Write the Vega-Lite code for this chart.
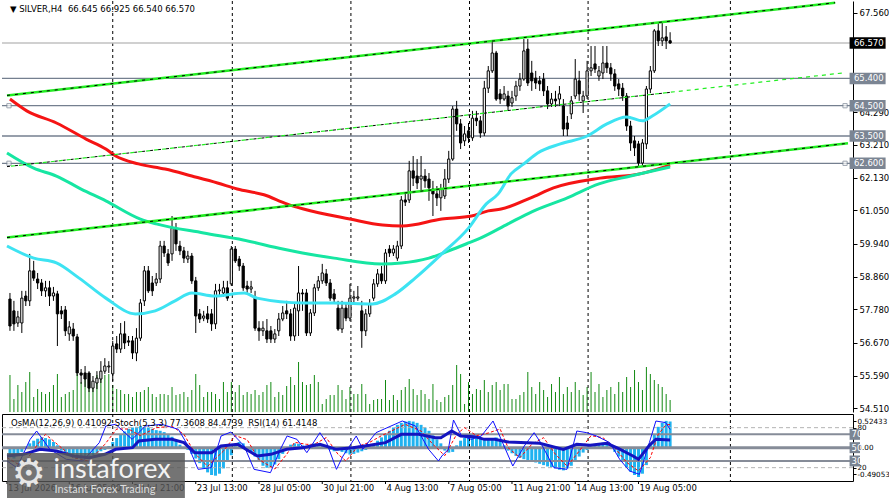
{
  "$schema": "https://vega.github.io/schema/vega-lite/v6.json",
  "padding": 0,
  "background": "#ffffff",
  "bounds": "flush",
  "spacing": 2,
  "config": {"view": {"stroke": null}, "font": "DejaVu Sans", "text": {"font": "DejaVu Sans", "fontSize": 8.5}},
  "resolve": {"scale": {"x": "independent"}},
  "datasets": {
    "bars": [
      {"i":0,"o":58.12,"h":58.32,"l":57.07,"c":57.23,"v":370,"os":-0.12},
      {"i":1,"o":57.73,"h":58.06,"l":57.07,"c":57.30,"v":130,"os":-0.15},
      {"i":2,"o":57.33,"h":57.73,"l":57.20,"c":57.53,"v":270,"os":-0.10},
      {"i":3,"o":57.33,"h":58.39,"l":57.00,"c":58.15,"v":200,"os":-0.05},
      {"i":4,"o":58.22,"h":58.39,"l":57.89,"c":58.06,"v":300,"os":0.03},
      {"i":5,"o":58.06,"h":59.61,"l":57.89,"c":59.05,"v":400,"os":0.08},
      {"i":6,"o":59.05,"h":59.38,"l":58.72,"c":58.81,"v":150,"os":0.12},
      {"i":7,"o":58.78,"h":58.98,"l":58.45,"c":58.65,"v":230,"os":0.15},
      {"i":8,"o":58.65,"h":58.78,"l":58.22,"c":58.39,"v":200,"os":0.17},
      {"i":9,"o":58.39,"h":58.72,"l":58.19,"c":58.49,"v":180,"os":0.16},
      {"i":10,"o":58.49,"h":58.72,"l":57.89,"c":58.22,"v":200,"os":0.14},
      {"i":11,"o":58.22,"h":58.52,"l":58.06,"c":58.32,"v":270,"os":0.10},
      {"i":12,"o":58.29,"h":58.39,"l":56.57,"c":57.63,"v":380,"os":0.05},
      {"i":13,"o":57.73,"h":57.89,"l":57.46,"c":57.63,"v":150,"os":-0.03},
      {"i":14,"o":57.76,"h":57.89,"l":56.90,"c":57.07,"v":180,"os":-0.07},
      {"i":15,"o":56.97,"h":57.39,"l":56.74,"c":57.20,"v":200,"os":-0.10},
      {"i":16,"o":57.13,"h":57.33,"l":56.74,"c":56.90,"v":220,"os":-0.13},
      {"i":17,"o":56.87,"h":56.97,"l":55.58,"c":55.68,"v":380,"os":-0.15},
      {"i":18,"o":55.68,"h":55.81,"l":55.32,"c":55.61,"v":300,"os":-0.15},
      {"i":19,"o":55.68,"h":55.91,"l":55.22,"c":55.48,"v":370,"os":-0.14},
      {"i":20,"o":55.68,"h":55.74,"l":55.05,"c":55.18,"v":270,"os":-0.12},
      {"i":21,"o":55.18,"h":55.58,"l":55.05,"c":55.41,"v":270,"os":-0.10},
      {"i":22,"o":55.35,"h":55.74,"l":55.15,"c":55.51,"v":370,"os":-0.07},
      {"i":23,"o":55.48,"h":56.07,"l":55.35,"c":55.74,"v":400,"os":-0.04},
      {"i":24,"o":55.74,"h":56.17,"l":55.65,"c":55.91,"v":370,"os":-0.02},
      {"i":25,"o":55.88,"h":56.07,"l":55.68,"c":55.91,"v":380,"os":0.04},
      {"i":26,"o":55.65,"h":56.74,"l":55.41,"c":56.57,"v":270,"os":0.10},
      {"i":27,"o":56.64,"h":56.90,"l":56.34,"c":56.47,"v":230,"os":0.16},
      {"i":28,"o":56.47,"h":57.33,"l":56.34,"c":56.97,"v":220,"os":0.22},
      {"i":29,"o":56.97,"h":57.39,"l":56.47,"c":56.67,"v":180,"os":0.26},
      {"i":30,"o":56.74,"h":56.90,"l":56.57,"c":56.70,"v":180,"os":0.30},
      {"i":31,"o":56.74,"h":56.90,"l":56.14,"c":56.34,"v":150,"os":0.32},
      {"i":32,"o":56.34,"h":57.16,"l":56.07,"c":56.83,"v":200,"os":0.33},
      {"i":33,"o":56.83,"h":58.12,"l":56.74,"c":57.99,"v":200,"os":0.34},
      {"i":34,"o":58.06,"h":59.21,"l":57.89,"c":59.05,"v":220,"os":0.33},
      {"i":35,"o":59.05,"h":59.21,"l":58.32,"c":58.39,"v":250,"os":0.32},
      {"i":36,"o":58.65,"h":58.88,"l":58.22,"c":58.39,"v":180,"os":0.30},
      {"i":37,"o":58.65,"h":58.98,"l":58.55,"c":58.78,"v":150,"os":0.28},
      {"i":38,"o":58.78,"h":60.04,"l":58.65,"c":59.87,"v":180,"os":0.27},
      {"i":39,"o":59.87,"h":60.04,"l":59.51,"c":59.64,"v":180,"os":0.25},
      {"i":40,"o":59.61,"h":59.77,"l":59.21,"c":59.31,"v":170,"os":0.22},
      {"i":41,"o":59.61,"h":60.86,"l":59.38,"c":60.46,"v":250,"os":0.18},
      {"i":42,"o":60.46,"h":60.63,"l":59.71,"c":59.94,"v":170,"os":0.12},
      {"i":43,"o":59.87,"h":60.04,"l":59.57,"c":59.71,"v":180,"os":0.06},
      {"i":44,"o":59.71,"h":59.84,"l":59.31,"c":59.47,"v":200,"os":0.02},
      {"i":45,"o":59.44,"h":59.71,"l":59.31,"c":59.54,"v":150,"os":-0.02},
      {"i":46,"o":59.54,"h":59.64,"l":58.62,"c":58.72,"v":220,"os":-0.08},
      {"i":47,"o":58.72,"h":58.85,"l":57.00,"c":57.56,"v":380,"os":-0.15},
      {"i":48,"o":57.63,"h":57.79,"l":57.33,"c":57.46,"v":270,"os":-0.22},
      {"i":49,"o":57.49,"h":57.73,"l":57.39,"c":57.56,"v":150,"os":-0.30},
      {"i":50,"o":57.63,"h":57.89,"l":57.33,"c":57.46,"v":200,"os":-0.36},
      {"i":51,"o":57.63,"h":57.79,"l":57.07,"c":57.30,"v":200,"os":-0.40},
      {"i":52,"o":57.30,"h":58.62,"l":57.13,"c":58.39,"v":180,"os":-0.41},
      {"i":53,"o":58.39,"h":58.62,"l":58.19,"c":58.42,"v":130,"os":-0.38},
      {"i":54,"o":58.32,"h":58.72,"l":58.19,"c":58.49,"v":300,"os":-0.30},
      {"i":55,"o":58.49,"h":58.72,"l":58.06,"c":58.15,"v":200,"os":-0.20},
      {"i":56,"o":58.62,"h":59.87,"l":58.55,"c":59.77,"v":300,"os":-0.10},
      {"i":57,"o":59.77,"h":59.87,"l":59.31,"c":59.38,"v":200,"os":0.05},
      {"i":58,"o":59.44,"h":59.54,"l":59.05,"c":59.21,"v":270,"os":0.10},
      {"i":59,"o":59.21,"h":59.31,"l":58.39,"c":58.49,"v":170,"os":0.08},
      {"i":60,"o":58.55,"h":58.72,"l":58.32,"c":58.45,"v":200,"os":0.02},
      {"i":61,"o":58.45,"h":58.72,"l":58.32,"c":58.52,"v":180,"os":-0.05},
      {"i":62,"o":58.15,"h":58.39,"l":57.07,"c":57.16,"v":220,"os":-0.12},
      {"i":63,"o":57.16,"h":57.39,"l":56.74,"c":57.07,"v":170,"os":-0.20},
      {"i":64,"o":57.07,"h":57.39,"l":56.90,"c":57.16,"v":200,"os":-0.26},
      {"i":65,"o":57.07,"h":57.46,"l":56.67,"c":56.80,"v":270,"os":-0.29},
      {"i":66,"o":57.07,"h":57.23,"l":56.67,"c":56.80,"v":300,"os":-0.28},
      {"i":67,"o":56.80,"h":57.13,"l":56.67,"c":56.97,"v":150,"os":-0.24},
      {"i":68,"o":57.07,"h":57.66,"l":56.90,"c":57.46,"v":200,"os":-0.16},
      {"i":69,"o":57.46,"h":57.89,"l":57.39,"c":57.66,"v":170,"os":-0.08},
      {"i":70,"o":57.73,"h":58.06,"l":57.46,"c":57.63,"v":260,"os":0.02},
      {"i":71,"o":57.63,"h":57.79,"l":56.74,"c":56.90,"v":350,"os":0.06},
      {"i":72,"o":56.90,"h":57.99,"l":56.74,"c":57.82,"v":270,"os":0.08},
      {"i":73,"o":57.73,"h":59.21,"l":56.90,"c":58.32,"v":500,"os":0.07},
      {"i":74,"o":58.32,"h":58.45,"l":57.73,"c":58.29,"v":300,"os":0.05},
      {"i":75,"o":58.32,"h":58.45,"l":56.90,"c":57.00,"v":270,"os":0.04},
      {"i":76,"o":57.00,"h":57.79,"l":56.90,"c":57.66,"v":280,"os":0.06},
      {"i":77,"o":57.66,"h":58.62,"l":57.56,"c":58.49,"v":370,"os":0.08},
      {"i":78,"o":58.49,"h":58.88,"l":58.39,"c":58.72,"v":300,"os":0.07},
      {"i":79,"o":58.72,"h":59.28,"l":58.62,"c":58.98,"v":80,"os":0.05},
      {"i":80,"o":58.95,"h":59.11,"l":58.55,"c":58.65,"v":130,"os":0.03},
      {"i":81,"o":58.65,"h":58.78,"l":58.06,"c":58.15,"v":170,"os":-0.02},
      {"i":82,"o":58.29,"h":58.45,"l":57.99,"c":58.12,"v":170,"os":-0.04},
      {"i":83,"o":57.82,"h":58.06,"l":57.07,"c":57.13,"v":270,"os":-0.03},
      {"i":84,"o":57.13,"h":58.06,"l":57.00,"c":57.82,"v":220,"os":-0.05},
      {"i":85,"o":57.82,"h":57.96,"l":57.39,"c":57.49,"v":130,"os":-0.07},
      {"i":86,"o":57.49,"h":58.62,"l":57.39,"c":58.15,"v":250,"os":-0.09},
      {"i":87,"o":58.15,"h":58.39,"l":57.99,"c":58.19,"v":180,"os":-0.08},
      {"i":88,"o":58.15,"h":58.55,"l":58.06,"c":58.19,"v":180,"os":-0.06},
      {"i":89,"o":57.73,"h":58.06,"l":56.51,"c":57.07,"v":280,"os":-0.04},
      {"i":90,"o":57.07,"h":57.79,"l":56.90,"c":57.63,"v":180,"os":-0.02},
      {"i":91,"o":57.63,"h":58.12,"l":57.53,"c":57.96,"v":80,"os":0.03},
      {"i":92,"o":58.15,"h":58.78,"l":58.06,"c":58.62,"v":120,"os":0.07},
      {"i":93,"o":58.62,"h":59.11,"l":58.52,"c":58.95,"v":130,"os":0.12},
      {"i":94,"o":58.95,"h":59.21,"l":58.62,"c":58.72,"v":130,"os":0.17},
      {"i":95,"o":58.72,"h":59.77,"l":58.62,"c":59.64,"v":320,"os":0.22},
      {"i":96,"o":59.77,"h":59.90,"l":59.51,"c":59.64,"v":120,"os":0.27},
      {"i":97,"o":59.64,"h":59.90,"l":59.54,"c":59.77,"v":170,"os":0.32},
      {"i":98,"o":59.47,"h":60.04,"l":59.38,"c":59.87,"v":120,"os":0.36},
      {"i":99,"o":59.87,"h":61.52,"l":59.77,"c":61.39,"v":220,"os":0.39},
      {"i":100,"o":61.39,"h":61.62,"l":61.19,"c":61.32,"v":250,"os":0.41},
      {"i":101,"o":61.39,"h":62.68,"l":61.29,"c":62.35,"v":330,"os":0.42},
      {"i":102,"o":62.35,"h":62.84,"l":61.85,"c":62.11,"v":230,"os":0.41},
      {"i":103,"o":62.18,"h":62.74,"l":61.75,"c":61.95,"v":170,"os":0.39},
      {"i":104,"o":62.08,"h":62.84,"l":61.69,"c":62.18,"v":220,"os":0.36},
      {"i":105,"o":62.18,"h":62.41,"l":61.79,"c":62.02,"v":180,"os":0.32},
      {"i":106,"o":62.08,"h":62.28,"l":61.36,"c":61.79,"v":130,"os":0.27},
      {"i":107,"o":61.75,"h":62.02,"l":60.86,"c":61.59,"v":280,"os":0.20},
      {"i":108,"o":61.59,"h":61.85,"l":61.19,"c":61.46,"v":120,"os":0.14},
      {"i":109,"o":61.46,"h":61.92,"l":61.03,"c":61.75,"v":100,"os":0.08},
      {"i":110,"o":61.52,"h":62.41,"l":61.42,"c":62.08,"v":150,"os":-0.03},
      {"i":111,"o":62.08,"h":63.01,"l":61.95,"c":62.74,"v":170,"os":-0.06},
      {"i":112,"o":62.74,"h":64.49,"l":62.68,"c":64.39,"v":270,"os":-0.05},
      {"i":113,"o":64.39,"h":64.66,"l":63.67,"c":63.90,"v":470,"os":0.05},
      {"i":114,"o":63.90,"h":64.06,"l":63.07,"c":63.27,"v":380,"os":0.12},
      {"i":115,"o":63.34,"h":63.83,"l":63.17,"c":63.57,"v":80,"os":0.16},
      {"i":116,"o":63.67,"h":63.93,"l":63.27,"c":63.44,"v":300,"os":0.18},
      {"i":117,"o":63.44,"h":64.33,"l":63.34,"c":64.09,"v":180,"os":0.19},
      {"i":118,"o":64.09,"h":64.33,"l":63.83,"c":64.00,"v":230,"os":0.18},
      {"i":119,"o":64.00,"h":64.16,"l":63.44,"c":63.60,"v":220,"os":0.17},
      {"i":120,"o":63.60,"h":65.32,"l":63.50,"c":65.08,"v":320,"os":0.15},
      {"i":121,"o":65.08,"h":65.81,"l":64.92,"c":65.65,"v":200,"os":0.14},
      {"i":122,"o":65.65,"h":66.64,"l":65.58,"c":66.24,"v":270,"os":0.15},
      {"i":123,"o":66.24,"h":66.31,"l":64.66,"c":64.72,"v":300,"os":0.17},
      {"i":124,"o":64.89,"h":65.05,"l":64.56,"c":64.72,"v":220,"os":0.12},
      {"i":125,"o":64.72,"h":65.15,"l":64.66,"c":64.89,"v":280,"os":0.05},
      {"i":126,"o":64.82,"h":64.99,"l":64.33,"c":64.49,"v":280,"os":-0.03},
      {"i":127,"o":64.59,"h":64.99,"l":64.46,"c":64.76,"v":130,"os":-0.07},
      {"i":128,"o":64.82,"h":65.32,"l":64.66,"c":65.15,"v":130,"os":-0.11},
      {"i":129,"o":65.15,"h":65.58,"l":64.99,"c":65.38,"v":170,"os":-0.14},
      {"i":130,"o":65.38,"h":66.70,"l":65.32,"c":66.31,"v":200,"os":-0.16},
      {"i":131,"o":66.37,"h":66.70,"l":65.15,"c":65.25,"v":400,"os":-0.18},
      {"i":132,"o":65.58,"h":65.98,"l":64.99,"c":65.32,"v":250,"os":-0.20},
      {"i":133,"o":65.41,"h":65.65,"l":65.05,"c":65.25,"v":180,"os":-0.21},
      {"i":134,"o":65.32,"h":65.48,"l":64.99,"c":65.22,"v":300,"os":-0.23},
      {"i":135,"o":65.38,"h":65.58,"l":64.82,"c":64.99,"v":220,"os":-0.25},
      {"i":136,"o":64.99,"h":65.15,"l":64.39,"c":64.56,"v":150,"os":-0.27},
      {"i":137,"o":64.56,"h":64.92,"l":64.46,"c":64.72,"v":280,"os":-0.28},
      {"i":138,"o":64.72,"h":64.99,"l":64.46,"c":64.66,"v":200,"os":-0.30},
      {"i":139,"o":64.72,"h":65.15,"l":64.49,"c":64.89,"v":350,"os":-0.32},
      {"i":140,"o":64.49,"h":64.72,"l":63.50,"c":63.73,"v":180,"os":-0.33},
      {"i":141,"o":63.93,"h":64.16,"l":63.50,"c":63.73,"v":250,"os":-0.30},
      {"i":142,"o":64.23,"h":64.82,"l":64.06,"c":64.66,"v":200,"os":-0.26},
      {"i":143,"o":64.82,"h":66.04,"l":64.72,"c":65.38,"v":300,"os":-0.20},
      {"i":144,"o":65.32,"h":65.65,"l":64.66,"c":64.89,"v":220,"os":-0.12},
      {"i":145,"o":64.66,"h":64.99,"l":64.26,"c":64.82,"v":170,"os":-0.06},
      {"i":146,"o":64.82,"h":65.98,"l":64.72,"c":65.65,"v":250,"os":-0.02},
      {"i":147,"o":65.65,"h":66.47,"l":65.48,"c":65.75,"v":400,"os":0.03},
      {"i":148,"o":65.88,"h":66.47,"l":65.58,"c":65.71,"v":200,"os":0.06},
      {"i":149,"o":65.48,"h":65.81,"l":65.32,"c":65.65,"v":280,"os":0.08},
      {"i":150,"o":65.58,"h":66.47,"l":65.38,"c":65.91,"v":150,"os":0.09},
      {"i":151,"o":65.91,"h":66.47,"l":65.58,"c":65.75,"v":220,"os":0.08},
      {"i":152,"o":65.75,"h":65.91,"l":65.32,"c":65.55,"v":250,"os":0.02},
      {"i":153,"o":65.55,"h":65.71,"l":64.99,"c":65.15,"v":180,"os":-0.05},
      {"i":154,"o":65.22,"h":65.38,"l":64.82,"c":65.05,"v":300,"os":-0.12},
      {"i":155,"o":65.08,"h":65.25,"l":64.66,"c":64.82,"v":200,"os":-0.20},
      {"i":156,"o":64.82,"h":64.92,"l":63.67,"c":63.83,"v":350,"os":-0.28},
      {"i":157,"o":63.83,"h":64.00,"l":63.01,"c":63.27,"v":250,"os":-0.35},
      {"i":158,"o":63.34,"h":63.50,"l":62.84,"c":63.11,"v":420,"os":-0.40},
      {"i":159,"o":63.24,"h":63.34,"l":62.51,"c":62.61,"v":300,"os":-0.43},
      {"i":160,"o":62.61,"h":63.40,"l":62.51,"c":63.27,"v":220,"os":-0.38},
      {"i":161,"o":63.24,"h":65.15,"l":63.07,"c":65.05,"v":450,"os":-0.25},
      {"i":162,"o":65.05,"h":65.81,"l":64.92,"c":65.65,"v":380,"os":0.08},
      {"i":163,"o":65.65,"h":67.03,"l":65.58,"c":66.97,"v":320,"os":0.22},
      {"i":164,"o":66.97,"h":67.23,"l":66.47,"c":66.64,"v":280,"os":0.33},
      {"i":165,"o":66.64,"h":67.23,"l":66.47,"c":66.74,"v":250,"os":0.39},
      {"i":166,"o":66.77,"h":67.13,"l":66.37,"c":66.64,"v":180,"os":0.42},
      {"i":167,"o":66.645,"h":66.925,"l":66.54,"c":66.57,"v":120,"os":0.41092}
    ],
    "ma": [
      {"i":0,"p":64.72,"s":"a"},{"i":4.25,"p":64.33,"s":"a"},{"i":11.75,"p":63.93,"s":"a"},{"i":19.25,"p":63.40,"s":"a"},
      {"i":24.25,"p":63.07,"s":"a"},{"i":26.75,"p":62.84,"s":"a"},{"i":32.5,"p":62.58,"s":"a"},{"i":39.25,"p":62.41,"s":"a"},
      {"i":46,"p":62.18,"s":"a"},{"i":52.5,"p":61.95,"s":"a"},{"i":57.5,"p":61.75,"s":"a"},{"i":64.25,"p":61.56,"s":"a"},
      {"i":70,"p":61.26,"s":"a"},{"i":74.25,"p":61.09,"s":"a"},{"i":86,"p":60.76,"s":"a"},{"i":94.25,"p":60.56,"s":"a"},
      {"i":99.25,"p":60.53,"s":"a"},{"i":109.25,"p":60.76,"s":"a"},{"i":116.75,"p":60.86,"s":"a"},{"i":121,"p":61.03,"s":"a"},
      {"i":124.25,"p":61.09,"s":"a"},{"i":131.75,"p":61.46,"s":"a"},{"i":137.5,"p":61.79,"s":"a"},{"i":149.25,"p":62.11,"s":"a"},
      {"i":159.25,"p":62.25,"s":"a"},{"i":167,"p":62.54,"s":"a"},
      {"i":-0.75,"p":62.94,"s":"b"},{"i":6,"p":62.44,"s":"b"},{"i":11.75,"p":62.18,"s":"b"},{"i":18,"p":61.75,"s":"b"},
      {"i":24.25,"p":61.36,"s":"b"},{"i":33,"p":60.76,"s":"b"},{"i":37,"p":60.60,"s":"b"},{"i":49,"p":60.30,"s":"b"},
      {"i":59,"p":60.07,"s":"b"},{"i":69,"p":59.77,"s":"b"},{"i":74,"p":59.64,"s":"b"},{"i":82,"p":59.47,"s":"b"},
      {"i":94,"p":59.28,"s":"b"},{"i":99,"p":59.31,"s":"b"},{"i":106,"p":59.47,"s":"b"},{"i":111,"p":59.71,"s":"b"},
      {"i":116,"p":59.97,"s":"b"},{"i":119,"p":60.13,"s":"b"},{"i":126,"p":60.60,"s":"b"},{"i":132,"p":61.00,"s":"b"},
      {"i":141,"p":61.46,"s":"b"},{"i":149,"p":61.92,"s":"b"},{"i":157,"p":62.18,"s":"b"},{"i":167,"p":62.48,"s":"b"},
      {"i":-0.75,"p":59.87,"s":"c"},{"i":6,"p":59.47,"s":"c"},{"i":11.75,"p":59.31,"s":"c"},{"i":17.5,"p":58.81,"s":"c"},
      {"i":24.25,"p":58.15,"s":"c"},{"i":31.75,"p":57.63,"s":"c"},{"i":36.75,"p":57.73,"s":"c"},{"i":41.75,"p":58.06,"s":"c"},
      {"i":46,"p":58.32,"s":"c"},{"i":51.75,"p":58.22,"s":"c"},{"i":59.25,"p":58.32,"s":"c"},{"i":62.5,"p":58.15,"s":"c"},
      {"i":74.25,"p":57.99,"s":"c"},{"i":81.75,"p":57.99,"s":"c"},{"i":91.75,"p":57.96,"s":"c"},{"i":97.5,"p":58.29,"s":"c"},
      {"i":102.5,"p":58.81,"s":"c"},{"i":109.25,"p":59.61,"s":"c"},{"i":116,"p":60.46,"s":"c"},{"i":120.5,"p":61.26,"s":"c"},
      {"i":123.5,"p":61.59,"s":"c"},{"i":126.75,"p":62.25,"s":"c"},{"i":130,"p":62.58,"s":"c"},{"i":133.5,"p":62.94,"s":"c"},
      {"i":139.25,"p":63.24,"s":"c"},{"i":146,"p":63.50,"s":"c"},{"i":151,"p":63.90,"s":"c"},{"i":156,"p":64.13,"s":"c"},
      {"i":160,"p":64.00,"s":"c"},{"i":162.5,"p":64.16,"s":"c"},{"i":167,"p":64.56,"s":"c"}
    ],
    "tl": [
      {"i":-0.75,"p":64.84,"s":"up"},{"i":208.75,"p":67.90,"s":"up"},
      {"i":-0.75,"p":60.15,"s":"lo"},{"i":212,"p":63.26,"s":"lo"},
      {"i":-0.75,"p":62.49,"s":"mid"},{"i":211.25,"p":65.59,"s":"mid"},
      {"i":-0.75,"p":62.49,"s":"midb"},{"i":167,"p":64.94,"s":"midb"}
    ],
    "grid": [{"i":26},{"i":56.25},{"i":86.25},{"i":116.25},{"i":146.25},{"i":182.25}],
    "lv": [
      {"p":66.57,"ty":"cur","lab":"66.570"},
      {"p":65.4,"ty":"lv","lab":"65.400"},
      {"p":64.5,"ty":"lv","lab":"64.500"},
      {"p":63.5,"ty":"lv","lab":"63.500"},
      {"p":62.6,"ty":"lv","lab":"62.600"}
    ],
    "sq": [{"i":-0.25,"p":64.5},{"i":211.25,"p":64.5},{"i":-0.25,"p":62.6},{"i":211.25,"p":62.6}],
    "il": [
      {"p":80,"ty":"d"},{"p":20,"ty":"d"},
      {"p":70,"ty":"s","lab":"70"},{"p":30,"ty":"s","lab":"30"},
      {"p":50,"ty":"m","lab":"50"}
    ],
    "tx": [
      {"i":-0.75,"t":"13 Jul 2026"},{"i":15,"t":"16 Jul 05:00"},{"i":31,"t":"20 Jul 21:00"},{"i":47,"t":"23 Jul 13:00"},
      {"i":63,"t":"28 Jul 05:00"},{"i":79,"t":"30 Jul 21:00"},{"i":95,"t":"4 Aug 13:00"},{"i":111,"t":"7 Aug 05:00"},
      {"i":127,"t":"11 Aug 21:00"},{"i":143,"t":"14 Aug 13:00"},{"i":159,"t":"19 Aug 05:00"}
    ],
    "stm": [
      {"i":-0.75,"v":30},{"i":1.75,"v":20},{"i":5.1,"v":62.5},{"i":6.75,"v":75},{"i":10.1,"v":47.5},{"i":14.25,"v":32.5},
      {"i":18.4,"v":30},{"i":22.6,"v":57.5},{"i":24.25,"v":82.5},{"i":26.75,"v":85},{"i":30.9,"v":62.5},{"i":34.25,"v":82.5},
      {"i":38.4,"v":85},{"i":42.6,"v":77.5},{"i":45.1,"v":52.5},{"i":47.6,"v":17.5},{"i":50.9,"v":20},{"i":53.4,"v":67.5},
      {"i":55.9,"v":73.5},{"i":59.25,"v":52.5},{"i":61.75,"v":17.5},{"i":65.9,"v":12.5},{"i":68.4,"v":47.5},{"i":70.1,"v":67.5},
      {"i":72.6,"v":62.5},{"i":75.1,"v":42.5},{"i":78.4,"v":72.5},{"i":80.1,"v":57.5},{"i":82.6,"v":17.5},{"i":84.25,"v":37.5},
      {"i":87.6,"v":67.5},{"i":89.25,"v":47.5},{"i":92.6,"v":72.5},{"i":99.25,"v":90},{"i":102.6,"v":82.5},{"i":105.9,"v":47.5},
      {"i":108.4,"v":30},{"i":109.25,"v":37.5},{"i":110.9,"v":47.5},{"i":112.2,"v":91.5},{"i":114.25,"v":67.5},{"i":116.75,"v":62.5},
      {"i":119.25,"v":67.5},{"i":122.2,"v":90},{"i":124.25,"v":62.5},{"i":127.2,"v":22.5},{"i":130.1,"v":52.5},{"i":132.6,"v":72.5},
      {"i":134.25,"v":57.5},{"i":137.6,"v":20},{"i":140.9,"v":17.5},{"i":143.4,"v":75},{"i":145.9,"v":72.5},{"i":148.4,"v":67.5},
      {"i":151.75,"v":57.5},{"i":154.25,"v":32.5},{"i":156.75,"v":15},{"i":159.25,"v":10},{"i":161.75,"v":57.5},{"i":163.4,"v":90},
      {"i":165.9,"v":87.5},{"i":167,"v":77.36}
    ],
    "sts": [
      {"i":-0.75,"v":35},{"i":3,"v":22},{"i":7,"v":55},{"i":9,"v":70},{"i":12,"v":55},{"i":16,"v":35},{"i":20,"v":30},
      {"i":24,"v":55},{"i":27,"v":78},{"i":30,"v":78},{"i":33,"v":68},{"i":37,"v":80},{"i":41,"v":82},{"i":44,"v":70},
      {"i":47,"v":40},{"i":50,"v":22},{"i":54,"v":45},{"i":57,"v":68},{"i":60,"v":62},{"i":63,"v":32},{"i":67,"v":18},
      {"i":70,"v":40},{"i":72,"v":58},{"i":75,"v":55},{"i":77,"v":55},{"i":80,"v":65},{"i":83,"v":40},{"i":85,"v":30},
      {"i":88,"v":52},{"i":91,"v":58},{"i":94,"v":68},{"i":100,"v":85},{"i":104,"v":75},{"i":107,"v":55},{"i":110,"v":38},
      {"i":113,"v":70},{"i":115,"v":80},{"i":118,"v":68},{"i":121,"v":72},{"i":124,"v":78},{"i":126,"v":50},{"i":129,"v":35},
      {"i":132,"v":55},{"i":135,"v":65},{"i":138,"v":40},{"i":141,"v":22},{"i":144,"v":45},{"i":147,"v":68},{"i":150,"v":65},
      {"i":153,"v":50},{"i":156,"v":28},{"i":159,"v":15},{"i":162,"v":35},{"i":164,"v":70},{"i":166,"v":84.5},{"i":167,"v":84.47}
    ],
    "rsi": [
      {"i":-0.75,"v":37.5},{"i":3.4,"v":40},{"i":7.6,"v":47.5},{"i":11.75,"v":45},{"i":16,"v":37.5},{"i":20,"v":35},
      {"i":24,"v":40},{"i":26.75,"v":47.5},{"i":31,"v":50},{"i":32.6,"v":60},{"i":36.75,"v":62.5},{"i":41,"v":62.5},
      {"i":44,"v":57.5},{"i":46.75,"v":42.5},{"i":51,"v":42.5},{"i":53.4,"v":52.5},{"i":57.6,"v":55},{"i":62.6,"v":37.5},
      {"i":66,"v":40},{"i":70,"v":47.5},{"i":74,"v":50},{"i":78.4,"v":55},{"i":82.6,"v":47.5},{"i":86.75,"v":50},
      {"i":91,"v":53.5},{"i":95,"v":57.5},{"i":99,"v":70},{"i":103.4,"v":70},{"i":107.6,"v":65},{"i":109,"v":65},
      {"i":111.75,"v":75},{"i":114,"v":67.5},{"i":117.6,"v":66.5},{"i":120,"v":62.5},{"i":122.6,"v":62.5},{"i":126,"v":58.5},
      {"i":134,"v":56.5},{"i":140,"v":47.5},{"i":143.4,"v":55},{"i":146.75,"v":53.5},{"i":151,"v":56.5},{"i":154,"v":48.5},
      {"i":157.6,"v":37.5},{"i":159,"v":32.5},{"i":161.75,"v":53.5},{"i":163.4,"v":62.5},{"i":167,"v":61.41}
    ]
  },
  "vconcat": [
    {
      "width": 851,
      "height": 411,
      "layer": [
        {
          "data": {"name": "bars"},
          "mark": {"type": "bar", "orient": "vertical", "width": 1, "color": "#128a12"},
          "encoding": {
            "x": {"field": "i", "type": "quantitative", "scale": {"domain": [-0.75, 212], "nice": false, "zero": false}, "axis": null},
            "y": {"field": "v", "type": "quantitative", "scale": {"domain": [0, 4110], "nice": false}, "axis": null}
          }
        },
        {
          "data": {"name": "grid"},
          "mark": {"type": "rule", "color": "#000000", "strokeDash": [3, 3], "strokeWidth": 1},
          "encoding": {
            "x": {"field": "i", "type": "quantitative", "scale": {"domain": [-0.75, 212], "nice": false, "zero": false}, "axis": null}
          }
        },
        {
          "data": {"name": "lv"},
          "mark": {"type": "rule", "strokeWidth": 1.3},
          "encoding": {
            "y": {
              "field": "p", "type": "quantitative",
              "scale": {"domain": [54.392, 67.956], "nice": false, "zero": false},
              "axis": {
                "orient": "right", "title": null, "grid": false,
                "values": [67.56, 64.29, 63.21, 62.13, 61.05, 59.94, 58.86, 57.78, 56.67, 55.59, 54.51],
                "format": ".3f", "domain": true, "domainColor": "#000000", "domainWidth": 1,
                "ticks": true, "tickColor": "#000000", "tickSize": 4,
                "labelColor": "#000000", "labelFont": "DejaVu Sans", "labelFontSize": 8.5,
                "labelPadding": 2, "labelFlush": false, "labelOverlap": false
              }
            },
            "color": {"field": "ty", "type": "nominal", "scale": {"domain": ["cur", "lv"], "range": ["#c0c0c0", "#747f8f"]}, "legend": null}
          }
        },
        {
          "data": {"name": "sq"},
          "mark": {"type": "square", "size": 18, "fill": "#ffffff", "stroke": "#747f8f", "strokeWidth": 1},
          "encoding": {
            "x": {"field": "i", "type": "quantitative", "scale": {"domain": [-0.75, 212], "nice": false, "zero": false}, "axis": null},
            "y": {"field": "p", "type": "quantitative", "scale": {"domain": [54.392, 67.956], "nice": false, "zero": false}, "axis": null}
          }
        },
        {
          "data": {"name": "bars"},
          "mark": {"type": "rule", "color": "#000000", "strokeWidth": 1},
          "encoding": {
            "x": {"field": "i", "type": "quantitative", "scale": {"domain": [-0.75, 212], "nice": false, "zero": false}, "axis": null},
            "y": {"field": "l", "type": "quantitative", "scale": {"domain": [54.392, 67.956], "nice": false, "zero": false}, "axis": null},
            "y2": {"field": "h"}
          }
        },
        {
          "data": {"name": "bars"},
          "mark": {"type": "bar", "orient": "vertical", "width": 2.2, "stroke": "#000000", "strokeWidth": 1},
          "encoding": {
            "x": {"field": "i", "type": "quantitative", "scale": {"domain": [-0.75, 212], "nice": false, "zero": false}, "axis": null},
            "y": {"field": "o", "type": "quantitative", "scale": {"domain": [54.392, 67.956], "nice": false, "zero": false}, "axis": null},
            "y2": {"field": "c"},
            "fill": {"condition": {"test": "datum.c >= datum.o", "value": "#ffffff"}, "value": "#000000"}
          }
        },
        {
          "data": {"name": "ma"},
          "mark": {"type": "line", "strokeWidth": 3, "interpolate": "monotone", "clip": true},
          "encoding": {
            "x": {"field": "i", "type": "quantitative", "scale": {"domain": [-0.75, 212], "nice": false, "zero": false}, "axis": null},
            "y": {"field": "p", "type": "quantitative", "scale": {"domain": [54.392, 67.956], "nice": false, "zero": false}, "axis": null},
            "stroke": {"field": "s", "type": "nominal", "scale": {"domain": ["a", "b", "c"], "range": ["#f51414", "#16e6a2", "#3de3f2"]}, "legend": null}
          }
        },
        {
          "data": {"name": "tl"},
          "transform": [{"filter": "datum.s == 'up' || datum.s == 'lo'"}],
          "mark": {"type": "line", "color": "#22ee22", "strokeWidth": 2.5, "clip": true},
          "encoding": {
            "x": {"field": "i", "type": "quantitative", "scale": {"domain": [-0.75, 212], "nice": false, "zero": false}, "axis": null},
            "y": {"field": "p", "type": "quantitative", "scale": {"domain": [54.392, 67.956], "nice": false, "zero": false}, "axis": null},
            "detail": {"field": "s"}
          }
        },
        {
          "data": {"name": "tl"},
          "transform": [{"filter": "datum.s == 'up' || datum.s == 'lo' || datum.s == 'midb'"}],
          "mark": {"type": "line", "color": "#000000", "strokeWidth": 1, "strokeDash": [3, 5], "clip": true},
          "encoding": {
            "x": {"field": "i", "type": "quantitative", "scale": {"domain": [-0.75, 212], "nice": false, "zero": false}, "axis": null},
            "y": {"field": "p", "type": "quantitative", "scale": {"domain": [54.392, 67.956], "nice": false, "zero": false}, "axis": null},
            "detail": {"field": "s"}
          }
        },
        {
          "data": {"name": "tl"},
          "transform": [{"filter": "datum.s == 'mid'"}],
          "mark": {"type": "line", "color": "#22ee22", "strokeWidth": 1.2, "strokeDash": [4, 4], "strokeDashOffset": 4, "clip": true},
          "encoding": {
            "x": {"field": "i", "type": "quantitative", "scale": {"domain": [-0.75, 212], "nice": false, "zero": false}, "axis": null},
            "y": {"field": "p", "type": "quantitative", "scale": {"domain": [54.392, 67.956], "nice": false, "zero": false}, "axis": null}
          }
        },
        {
          "data": {"values": [{"t": "\u25bc\u00a0SILVER,H4\u00a0\u00a066.645 66.925 66.540 66.570"}]},
          "mark": {"type": "text", "align": "left", "baseline": "middle", "fontSize": 8.5, "color": "#000000"},
          "encoding": {
            "x": {"datum": 0, "type": "quantitative", "scale": {"domain": [-0.75, 212], "nice": false, "zero": false}, "axis": null},
            "y": {"datum": 67.69, "type": "quantitative", "scale": {"domain": [54.392, 67.956], "nice": false, "zero": false}, "axis": null},
            "text": {"field": "t"}
          }
        },
        {
          "data": {"name": "lv"},
          "mark": {"type": "point", "shape": "M0,-1H6.2V1H0Z", "size": 135, "filled": true, "opacity": 1, "strokeWidth": 0},
          "encoding": {
            "x": {"datum": 212.4, "type": "quantitative", "scale": {"domain": [-0.75, 212], "nice": false, "zero": false}, "axis": null},
            "y": {"field": "p", "type": "quantitative", "scale": {"domain": [54.392, 67.956], "nice": false, "zero": false}, "axis": null},
            "fill": {"field": "ty", "type": "nominal", "scale": {"domain": ["cur", "lv"], "range": ["#000000", "#7b8593"]}, "legend": null}
          }
        },
        {
          "data": {"name": "lv"},
          "mark": {"type": "text", "align": "left", "baseline": "middle", "fontSize": 8.5, "color": "#ffffff"},
          "encoding": {
            "x": {"datum": 213.5, "type": "quantitative", "scale": {"domain": [-0.75, 212], "nice": false, "zero": false}, "axis": null},
            "y": {"field": "p", "type": "quantitative", "scale": {"domain": [54.392, 67.956], "nice": false, "zero": false}, "axis": null},
            "text": {"field": "lab"}
          }
        }
      ],
      "resolve": {"scale": {"y": "independent"}}
    },
    {
      "width": 851,
      "height": 67,
      "view": {"stroke": "#000000"},
      "layer": [
        {
          "data": {"name": "bars"},
          "mark": {"type": "bar", "orient": "vertical", "width": 3, "color": "#1fb2f0"},
          "encoding": {
            "x": {"field": "i", "type": "quantitative", "scale": {"domain": [-0.75, 212], "nice": false, "zero": false}, "axis": null},
            "y": {"field": "os", "type": "quantitative", "scale": {"domain": [-0.49053, 0.52433], "nice": false, "zero": false}, "axis": null},
            "y2": {"datum": 0}
          }
        },
        {
          "data": {"name": "grid"},
          "mark": {"type": "rule", "color": "#000000", "strokeDash": [3, 3], "strokeWidth": 1},
          "encoding": {
            "x": {"field": "i", "type": "quantitative", "scale": {"domain": [-0.75, 212], "nice": false, "zero": false}, "axis": null}
          }
        },
        {
          "data": {"name": "il"},
          "transform": [{"filter": "datum.ty == 'd'"}],
          "mark": {"type": "rule", "color": "#b4b4b4", "strokeWidth": 1, "strokeDash": [4, 3]},
          "encoding": {
            "y": {
              "field": "p", "type": "quantitative",
              "scale": {"domain": [0, 100.5], "nice": false, "zero": false},
              "axis": {
                "orient": "right", "title": null, "grid": false, "domain": false,
                "values": [90, 80, 50, 20, 10],
                "labelExpr": "datum.value == 90 ? '0.52433' : datum.value == 10 ? '-0.49053' : datum.value == 50 ? '0.00' : datum.label",
                "ticks": true, "tickSize": 3, "tickColor": "#000000",
                "labelFont": "DejaVu Sans", "labelFontSize": 7.2, "labelColor": "#000000",
                "labelPadding": 1, "labelOverlap": false, "labelFlush": false
              }
            }
          }
        },
        {
          "data": {"name": "il"},
          "transform": [{"filter": "datum.ty == 's'"}],
          "mark": {"type": "rule", "color": "#868c98", "strokeWidth": 2},
          "encoding": {
            "y": {"field": "p", "type": "quantitative", "scale": {"domain": [0, 100.5], "nice": false, "zero": false}, "axis": null}
          }
        },
        {
          "data": {"name": "il"},
          "transform": [{"filter": "datum.ty == 'm'"}],
          "mark": {"type": "rule", "color": "#868c98", "strokeWidth": 3},
          "encoding": {
            "y": {"field": "p", "type": "quantitative", "scale": {"domain": [0, 100.5], "nice": false, "zero": false}, "axis": null}
          }
        },
        {
          "data": {"name": "sts"},
          "mark": {"type": "line", "color": "#ff0000", "strokeWidth": 1, "strokeDash": [3, 2], "clip": true},
          "encoding": {
            "x": {"field": "i", "type": "quantitative", "scale": {"domain": [-0.75, 212], "nice": false, "zero": false}, "axis": null},
            "y": {"field": "v", "type": "quantitative", "scale": {"domain": [0, 100.5], "nice": false, "zero": false}, "axis": null}
          }
        },
        {
          "data": {"name": "stm"},
          "mark": {"type": "line", "color": "#1010ff", "strokeWidth": 1, "clip": true},
          "encoding": {
            "x": {"field": "i", "type": "quantitative", "scale": {"domain": [-0.75, 212], "nice": false, "zero": false}, "axis": null},
            "y": {"field": "v", "type": "quantitative", "scale": {"domain": [0, 100.5], "nice": false, "zero": false}, "axis": null}
          }
        },
        {
          "data": {"name": "rsi"},
          "mark": {"type": "line", "color": "#1414c0", "strokeWidth": 3, "clip": true},
          "encoding": {
            "x": {"field": "i", "type": "quantitative", "scale": {"domain": [-0.75, 212], "nice": false, "zero": false}, "axis": null},
            "y": {"field": "v", "type": "quantitative", "scale": {"domain": [0, 100.5], "nice": false, "zero": false}, "axis": null}
          }
        },
        {
          "data": {"values": [{"t": "OsMA(12,26,9) 0.41092 Stoch(5,3,3) 77.3608 84.4739\u00a0\u00a0RSI(14) 61.4148"}]},
          "mark": {"type": "text", "align": "left", "baseline": "middle", "fontSize": 8.5, "color": "#000000"},
          "encoding": {
            "x": {"datum": 0.25, "type": "quantitative", "scale": {"domain": [-0.75, 212], "nice": false, "zero": false}, "axis": null},
            "y": {"datum": 87, "type": "quantitative", "scale": {"domain": [0, 100.5], "nice": false, "zero": false}, "axis": null},
            "text": {"field": "t"}
          }
        },
        {
          "data": {"name": "il"},
          "transform": [{"filter": "isValid(datum.lab)"}],
          "mark": {"type": "point", "shape": "M0,-1H1.9V1H0Z", "size": 121, "filled": true, "opacity": 1, "strokeWidth": 0, "color": "#7b8593"},
          "encoding": {
            "x": {"datum": 212.4, "type": "quantitative", "scale": {"domain": [-0.75, 212], "nice": false, "zero": false}, "axis": null},
            "y": {"field": "p", "type": "quantitative", "scale": {"domain": [0, 100.5], "nice": false, "zero": false}, "axis": null}
          }
        },
        {
          "data": {"name": "il"},
          "transform": [{"filter": "isValid(datum.lab)"}],
          "mark": {"type": "text", "align": "left", "baseline": "middle", "fontSize": 8.5, "color": "#ffffff"},
          "encoding": {
            "x": {"datum": 212.9, "type": "quantitative", "scale": {"domain": [-0.75, 212], "nice": false, "zero": false}, "axis": null},
            "y": {"field": "p", "type": "quantitative", "scale": {"domain": [0, 100.5], "nice": false, "zero": false}, "axis": null},
            "text": {"field": "lab"}
          }
        },
        {
          "data": {"name": "tx"},
          "mark": {"type": "rule", "color": "#000000", "strokeWidth": 1},
          "encoding": {
            "x": {"field": "i", "type": "quantitative", "scale": {"domain": [-0.75, 212], "nice": false, "zero": false}, "axis": null},
            "y": {"datum": 0, "type": "quantitative", "scale": {"domain": [0, 100.5], "nice": false, "zero": false}, "axis": null},
            "y2": {"datum": -4.5}
          }
        },
        {
          "data": {"name": "tx"},
          "mark": {"type": "text", "align": "left", "baseline": "top", "dx": 1, "fontSize": 8.5, "color": "#000000"},
          "encoding": {
            "x": {"field": "i", "type": "quantitative", "scale": {"domain": [-0.75, 212], "nice": false, "zero": false}, "axis": null},
            "y": {"datum": -5, "type": "quantitative", "scale": {"domain": [0, 100.5], "nice": false, "zero": false}, "axis": null},
            "text": {"field": "t"}
          }
        },
        {
          "data": {"values": [{}]},
          "mark": {"type": "rect", "color": "#555555", "opacity": 0.82},
          "encoding": {
            "x": {"datum": -0.75, "type": "quantitative", "scale": {"domain": [-0.75, 212], "nice": false, "zero": false}, "axis": null},
            "x2": {"datum": 44.25},
            "y": {"datum": 42, "type": "quantitative", "scale": {"domain": [0, 100.5], "nice": false, "zero": false}, "axis": null},
            "y2": {"datum": -27}
          }
        },
        {
          "data": {"values": [{"t": "\u2699"}]},
          "mark": {"type": "text", "align": "center", "baseline": "middle", "fontSize": 38, "color": "#e6e6e6"},
          "encoding": {
            "x": {"datum": 4.75, "type": "quantitative", "scale": {"domain": [-0.75, 212], "nice": false, "zero": false}, "axis": null},
            "y": {"datum": 9, "type": "quantitative", "scale": {"domain": [0, 100.5], "nice": false, "zero": false}, "axis": null},
            "text": {"field": "t"}
          }
        },
        {
          "data": {"values": [{"t": "instaforex"}]},
          "mark": {"type": "text", "align": "left", "baseline": "alphabetic", "font": "Lato", "fontSize": 27, "color": "#f2f2f2"},
          "encoding": {
            "x": {"datum": 11, "type": "quantitative", "scale": {"domain": [-0.75, 212], "nice": false, "zero": false}, "axis": null},
            "y": {"datum": 4.5, "type": "quantitative", "scale": {"domain": [0, 100.5], "nice": false, "zero": false}, "axis": null},
            "text": {"field": "t"}
          }
        },
        {
          "data": {"values": [{"t": "Instant Forex Trading"}]},
          "mark": {"type": "text", "align": "left", "baseline": "middle", "font": "Lato", "fontSize": 11, "color": "#dcdcdc"},
          "encoding": {
            "x": {"datum": 11.25, "type": "quantitative", "scale": {"domain": [-0.75, 212], "nice": false, "zero": false}, "axis": null},
            "y": {"datum": -13, "type": "quantitative", "scale": {"domain": [0, 100.5], "nice": false, "zero": false}, "axis": null},
            "text": {"field": "t"}
          }
        }
      ],
      "resolve": {"scale": {"y": "independent"}}
    }
  ]
}
